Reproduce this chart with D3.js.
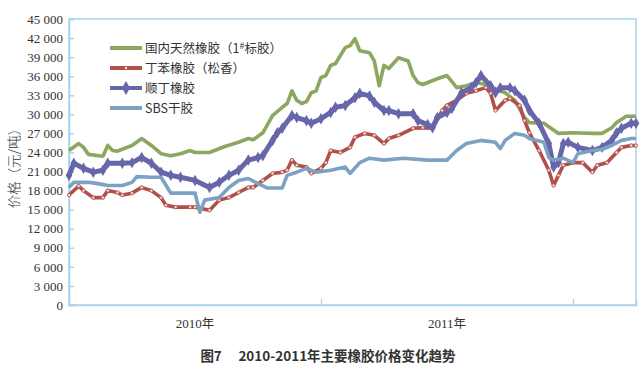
<!DOCTYPE html>
<html>
<head>
<meta charset="utf-8">
<script src="https://cdn.jsdelivr.net/npm/d3@7"></script>
<style>
    body { margin: 0; background: #fff; }
    svg { display: block; }
    .tick text { font-family: "Liberation Serif", "DejaVu Serif", serif; font-size: 13px; fill: #333; }
    .cjk { font-family: "Noto Sans CJK SC", sans-serif; fill: #333; }
</style>
</head>
<body>
<script>

// ===========================================================================
// Data (x = week index from the start of 2010, y = price in yuan/ton)

var yearLabels = ['2010年', '2011年'];
var yearStarts = [0, 52, 104];
var lastWeek = 117;

var yTicks = [0, 3000, 6000, 9000, 12000, 15000, 18000, 21000, 24000,
    27000, 30000, 33000, 36000, 39000, 42000, 45000];

var seriesNames = ['国内天然橡胶（1#标胶）', '丁苯橡胶（松香）', '顺丁橡胶', 'SBS干胶'];

// 国内天然橡胶
var naturalRubber = [[0,24300],[2,25400],[3,24800],[4,23700],[7,23400],[8,25100],[9,24300],
    [10,24200],[13,25100],[15,26200],[17,25100],[19,23800],[21,23500],[23,23800],[25,24300],
    [26,24000],[29,24000],[32,24900],[35,25600],[37,26200],[38,26000],[40,27100],[42,29800],
    [44,31100],[45,31700],[46,33700],[47,32200],[48,31700],[49,32000],[50,33400],[51,33700],
    [52,35800],[53,36100],[54,37700],[55,38000],[57,40500],[58,40800],[59,41900],[60,40000],
    [62,39700],[63,38400],[64,34500],[65,37700],[66,37200],[68,38900],[70,38400],[71,36100],
    [72,35000],[73,34700],[76,35600],[78,36100],[80,34200],[82,34500],[84,35000],[86,34700],
    [88,34000],[90,33400],[92,32200],[94,29500],[95,28700],[98,28600],[101,27000],[104,27100],
    [108,27000],[110,27000],[112,27900],[113,28700],[115,29700],[117,29700]];

// 丁苯橡胶
var styreneRubber = [[0,17300],[2,18700],[3,18000],[5,16900],[7,16900],[8,18000],[10,17700],
    [11,17300],[13,17600],[15,18500],[17,18000],[19,16900],[20,15700],[22,15400],[25,15400],
    [26,15400],[29,14900],[31,16500],[33,16900],[35,17700],[37,18500],[38,18500],[40,19600],
    [42,20700],[44,20900],[45,21200],[46,22800],[47,22000],[49,21700],[50,20700],[52,21500],
    [53,22400],[54,24300],[56,24000],[58,24800],[59,26400],[61,27000],[63,26700],[65,25400],
    [66,26200],[68,26700],[71,27800],[73,27900],[75,27800],[77,30600],[78,31400],[80,32200],
    [82,33300],[84,33700],[86,34200],[87,33300],[88,30600],[90,32200],[91,32500],[93,31400],
    [94,29000],[95,27100],[97,24300],[99,21200],[100,18800],[101,20400],[102,22000],[104,22400],
    [106,22400],[108,20900],[109,22000],[111,22400],[113,24000],[114,24800],[116,25100],[117,25100]];

// 顺丁橡胶
var butadieneRubber = [[0,20400],[1,22300],[3,21500],[5,20900],[7,21200],[8,22300],[11,22300],
    [13,22400],[15,23200],[17,22300],[19,20900],[21,20400],[23,20100],[26,19600],[29,18500],
    [31,19300],[33,20400],[35,21200],[37,22800],[39,23200],[40,23500],[42,25900],[43,27100],
    [44,27800],[46,29800],[47,29500],[49,29000],[50,28600],[52,29300],[54,30300],[55,31100],
    [57,31400],[59,32600],[60,33300],[62,32900],[63,31900],[65,30600],[66,30600],[68,30100],
    [71,30100],[72,29000],[74,28400],[75,27900],[76,29500],[78,30300],[79,30900],[81,33400],
    [83,34200],[84,35000],[85,36100],[87,34500],[88,33400],[89,34200],[91,34200],[92,33700],
    [94,32200],[95,30600],[97,28600],[99,25400],[100,21700],[101,22400],[102,25400],[103,25600],
    [105,24800],[108,24300],[110,24800],[112,25900],[113,27100],[114,27800],[116,28600],[117,28600]];

// SBS干胶
var sbsRubber = [[0,18500],[1,19300],[4,19300],[6,19100],[8,18800],[11,18800],[13,19300],
    [14,20200],[17,20100],[19,20100],[21,17600],[26,17600],[27,14600],[28,16500],[31,16900],
    [33,18500],[35,19600],[37,19900],[39,19100],[41,18400],[44,18400],[45,20400],[47,20900],
    [49,21500],[51,20900],[54,21200],[57,21700],[58,20700],[60,22400],[62,23100],[65,22800],
    [69,23100],[74,22800],[78,22800],[80,24300],[82,25400],[85,25900],[88,25600],[89,24600],
    [90,25900],[92,27000],[94,26700],[95,26200],[98,25600],[99,23200],[100,22800],[102,23100],
    [104,22400],[105,23800],[108,24300],[110,24500],[112,25100],[114,25900],[116,26200],[117,26200]];


// ===========================================================================
// The chart

var W = 644;
var H = 375;
var plot = { left: 69, right: 636, top: 19, bottom: 305 };
var axisColor = '#a9d3f0';

var series = [
    { name: seriesNames[0], data: naturalRubber, color: '#8ca75f', width: 3.6, marker: null },
    { name: seriesNames[1], data: styreneRubber, color: '#b1504b', width: 3.6, marker: 'circle' },
    { name: seriesNames[2], data: butadieneRubber, color: '#6766ab', width: 5, marker: 'diamond' },
    { name: seriesNames[3], data: sbsRubber, color: '#7ca2c3', width: 3.6, marker: null }
];

var svg = d3.select('body').append('svg')
    .attr('width', W)
    .attr('height', H);

var x = d3.scaleLinear().domain([0, lastWeek]).range([plot.left, plot.right]);
var y = d3.scaleLinear().domain([0, 45000]).range([plot.bottom, plot.top]);

// Frame round the plot
svg.append('rect')
    .attr('x', plot.left)
    .attr('y', plot.top)
    .attr('width', plot.right - plot.left)
    .attr('height', plot.bottom - plot.top)
    .attr('fill', 'none')
    .attr('stroke', axisColor)
    .attr('stroke-width', 1.5);

// Y axis, ticks point inwards
var fmt = d3.format(',');
var yAxis = svg.append('g')
    .attr('transform', 'translate(' + plot.left + ',0)')
    .call(d3.axisLeft(y)
        .tickValues(yTicks)
        .tickSize(-5)
        .tickPadding(6)
        .tickFormat(function (d) { return fmt(d).replace(/,/g, ' '); }));
yAxis.select('.domain').attr('stroke', axisColor).attr('stroke-width', 1.5);
yAxis.selectAll('.tick line').attr('stroke', axisColor).attr('stroke-width', 1.5);

// X axis: year separators and year labels
var xAxis = svg.append('g')
    .attr('transform', 'translate(0,' + plot.bottom + ')')
    .call(d3.axisBottom(x)
        .tickValues(yearStarts.slice(1))
        .tickSize(-6)
        .tickFormat(''));
xAxis.select('.domain').attr('stroke', axisColor).attr('stroke-width', 1.5);
xAxis.selectAll('.tick line').attr('stroke', axisColor).attr('stroke-width', 1.2);

svg.selectAll('text.year')
    .data(yearLabels)
    .enter()
    .append('text')
    .attr('class', 'year')
    .attr('x', function (d, i) { return x((yearStarts[i] + yearStarts[i + 1]) / 2); })
    .attr('y', plot.bottom + 23)
    .attr('text-anchor', 'middle')
    .style('font-size', '13px')
    .style('fill', '#333')
    .each(function (d) {
        var t = d3.select(this);
        t.append('tspan').style('font-family', '"Liberation Serif", serif').text(d.slice(0, 4));
        t.append('tspan').attr('class', 'cjk').style('font-size', '12.5px').text(d.slice(4));
    });

// Y axis title
svg.append('text')
    .attr('class', 'cjk')
    .attr('transform', 'translate(19,165) rotate(-90)')
    .attr('text-anchor', 'middle')
    .style('font-size', '13.5px')
    .style('font-weight', 300)
    .text('价格（元/吨）');

// Lines
var line = d3.line()
    .x(function (d) { return x(d[0]); })
    .y(function (d) { return y(d[1]); });

var diamond = d3.symbol().type(d3.symbolDiamond).size(38);

function drawMarkers(g, s, pts) {
    if (s.marker === 'circle') {
        g.selectAll('circle')
            .data(pts)
            .enter()
            .append('circle')
            .attr('cx', function (d) { return x(d[0]); })
            .attr('cy', function (d) { return y(d[1]); })
            .attr('r', 1.7)
            .attr('fill', '#f1d6d2')
            .attr('stroke', s.color)
            .attr('stroke-width', 0.8);
    } else if (s.marker === 'diamond') {
        g.selectAll('path.mk')
            .data(pts)
            .enter()
            .append('path')
            .attr('class', 'mk')
            .attr('d', diamond)
            .attr('transform', function (d) {
                return 'translate(' + x(d[0]) + ',' + y(d[1]) + ')';
            })
            .attr('fill', s.color);
    }
}

series.forEach(function (s) {
    var g = svg.append('g').attr('class', 'series');
    g.append('path')
        .datum(s.data)
        .attr('d', line)
        .attr('fill', 'none')
        .attr('stroke', s.color)
        .attr('stroke-width', s.width)
        .attr('stroke-linejoin', 'round');
    drawMarkers(g, s, s.data);
});

// Legend
var legend = svg.append('g').attr('transform', 'translate(110,48)');
var row = legend.selectAll('g')
    .data(series)
    .enter()
    .append('g')
    .attr('transform', function (d, i) { return 'translate(0,' + i * 20 + ')'; });

row.append('line')
    .attr('x1', 0)
    .attr('x2', 32)
    .attr('stroke', function (d) { return d.color; })
    .attr('stroke-width', 4);

row.filter(function (d) { return d.marker === 'circle'; })
    .append('circle')
    .attr('cx', 16).attr('r', 1.7)
    .attr('fill', '#f1d6d2')
    .attr('stroke', function (d) { return d.color; })
    .attr('stroke-width', 0.8);
row.filter(function (d) { return d.marker === 'diamond'; })
    .append('path')
    .attr('d', d3.symbol().type(d3.symbolDiamond).size(55))
    .attr('transform', 'translate(16,0)')
    .attr('fill', function (d) { return d.color; });

row.append('text')
    .attr('class', 'cjk')
    .attr('x', 35)
    .attr('y', 4.5)
    .style('font-size', '12.5px')
    .each(function (d) {
        var t = d3.select(this);
        var k = d.name.indexOf('#');
        if (k < 0) {
            t.text(d.name);
        } else {
            // superscript "#" after the 1
            t.append('tspan').text(d.name.slice(0, k));
            t.append('tspan').attr('dy', -4).style('font-size', '9px').text('#');
            t.append('tspan').attr('dy', 4).text(d.name.slice(k + 1));
        }
    });

// Caption
svg.append('text')
    .attr('class', 'cjk')
    .attr('x', 328)
    .attr('y', 361)
    .attr('text-anchor', 'middle')
    .style('font-size', '13.5px')
    .style('font-weight', 'bold')
    .text('图7\u2003 2010-2011年主要橡胶价格变化趋势');

</script>
</body>
</html>
